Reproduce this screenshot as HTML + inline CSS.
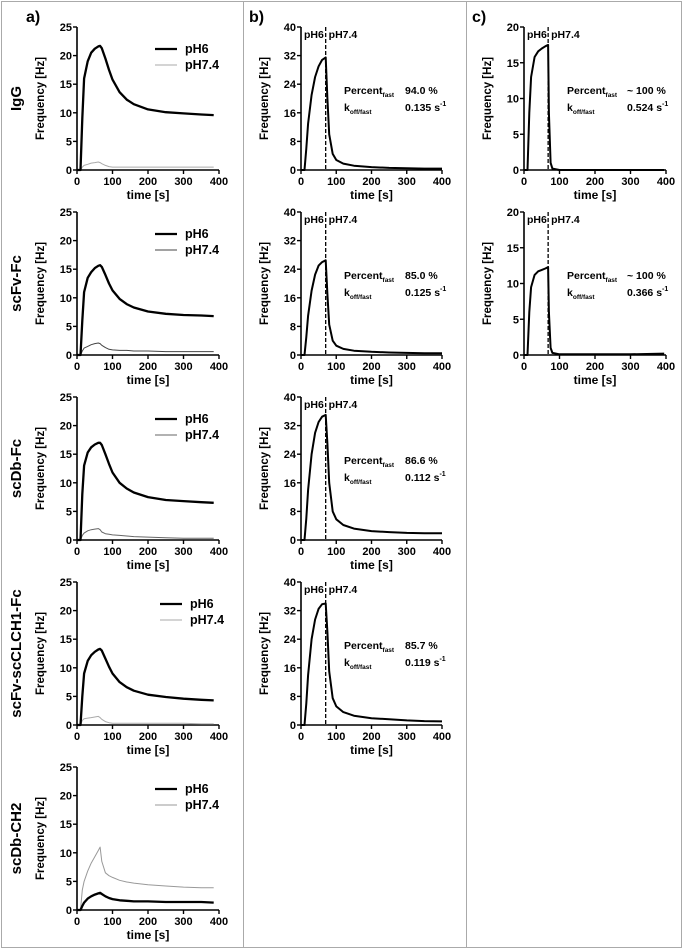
<!DOCTYPE html>
<html><head><meta charset="utf-8">
<style>
html,body{margin:0;padding:0;background:#fff;}
svg{display:block;font-family:"Liberation Sans",Arial,sans-serif;}
</style></head>
<body>
<svg id="fig" width="684" height="952" viewBox="0 0 684 952" xmlns="http://www.w3.org/2000/svg">
<rect x="1.5" y="1.5" width="680" height="946" fill="#fff" stroke="#aaa" stroke-width="1"/>
<line x1="243.5" y1="1.5" x2="243.5" y2="947.5" stroke="#aaa" stroke-width="1"/>
<line x1="466.5" y1="1.5" x2="466.5" y2="947.5" stroke="#aaa" stroke-width="1"/>
<text x="26" y="22" font-size="16" font-weight="bold">a)</text>
<text x="249" y="22" font-size="16" font-weight="bold">b)</text>
<text x="472" y="22" font-size="16" font-weight="bold">c)</text>
</svg>
<script>
// ---- data ----
const timesA = [0,10,15,20,30,40,50,60,65,70,80,90,100,120,140,160,200,250,300,350,385];
const igg_pH6   = [0,0,9,16,19,20.5,21.2,21.6,21.7,21.3,19.5,17.5,15.8,13.6,12.3,11.5,10.6,10.1,9.9,9.7,9.6];
const igg_pH74  = [0,0,0.5,0.8,1.0,1.2,1.3,1.4,1.3,1.1,0.8,0.6,0.5,0.5,0.5,0.5,0.5,0.5,0.5,0.5,0.5];
const scfvfc_pH6  = [0,0,6,11,13.5,14.5,15.2,15.6,15.7,15.4,14.0,12.5,11.3,9.8,8.9,8.3,7.6,7.2,7.0,6.9,6.8];
const scfvfc_pH74 = [0,0,0.7,1.2,1.5,1.8,2.0,2.1,2.0,1.7,1.3,1.0,0.9,0.8,0.8,0.7,0.7,0.6,0.6,0.6,0.6];
const scdbfc_pH6  = [0,0,8,13,15.3,16.2,16.7,17.0,17.0,16.6,15.0,13.3,11.8,10.0,9.0,8.3,7.5,7.0,6.8,6.6,6.5];
const scdbfc_pH74 = [0,0,0.8,1.2,1.6,1.8,1.9,2.0,1.8,1.4,1.1,1.0,0.9,0.8,0.7,0.6,0.5,0.4,0.3,0.3,0.3];
const sccl_pH6  = [0,0,5,9,11.2,12.2,12.8,13.2,13.3,13.0,11.6,10.2,9.0,7.5,6.6,6.0,5.3,4.9,4.6,4.4,4.3];
const sccl_pH74 = [0,0,0.8,1.1,1.2,1.3,1.4,1.5,1.3,1.0,0.6,0.4,0.3,0.3,0.3,0.3,0.3,0.3,0.3,0.2,0.2];
const scdbch2_pH6  = [0,0,0.7,1.3,2.0,2.4,2.7,2.9,3.0,2.8,2.4,2.1,1.9,1.7,1.6,1.5,1.5,1.4,1.4,1.4,1.3];
const scdbch2_pH74 = [0,0,3.5,5.0,6.8,8.2,9.3,10.4,11.0,8.5,6.5,6.0,5.7,5.2,4.9,4.7,4.4,4.2,4.0,3.9,3.9];

const timesB = [0,10,15,20,30,40,50,60,70,75,80,90,100,120,150,200,250,300,350,400];
const b_igg    = [0,0,6,13,21,26,29,30.8,31.5,20,10,4.5,2.8,1.8,1.2,0.8,0.6,0.5,0.4,0.4];
const b_scfvfc = [0,0,5,11,18,22.5,25,26,26.5,17,8.5,4,2.6,1.7,1.2,0.9,0.7,0.6,0.5,0.5];
const b_scdbfc = [0,0,6,14,24,30,33,34.5,35,27,16,8,5.8,4.2,3.2,2.5,2.2,2.0,1.9,1.9];
const b_sccl   = [0,0,6,14,24,29.5,32.5,33.8,34,26,15,7.5,5.2,3.6,2.6,1.9,1.6,1.3,1.1,1.0];

const timesC = [0,10,15,20,30,40,50,60,68,70,75,80,100,200,300,395];
const c_igg    = [0,0,8,13,15.8,16.6,17.0,17.3,17.5,8,1,0.2,0,0,0,0];
const c_scfvfc = [0,0,6,9.5,11.2,11.7,11.9,12.1,12.3,6,1,0.3,0.1,0.1,0.1,0.2];

const xTicks = [0,100,200,300,400];
const yTicksA = [0,5,10,15,20,25];
const yTicksB = [0,8,16,24,32,40];
const yTicksC = [0,5,10,15,20];
const rowNames = ["IgG","scFv-Fc","scDb-Fc","scFv-scCLCH1-Fc","scDb-CH2"];
const percentB = ["94.0 %","85.0 %","86.6 %","85.7 %"];
const koffB = ["0.135","0.125","0.112","0.119"];
const percentC = ["~ 100 %","~ 100 %"];
const koffC = ["0.524","0.366"];
const switchTime = 70;

// ---- layout ----
const NS="http://www.w3.org/2000/svg";
const svg=document.getElementById('fig');
const rowTop=[27,212,397,582,767], axH=143;
function mk(tag,attrs,parent){const e=document.createElementNS(NS,tag);for(const k in attrs)e.setAttribute(k,attrs[k]);(parent||svg).appendChild(e);return e;}

function axes(g,x0,x1,top,ymax,yt,name){
  const bot=top+axH;
  const sx=t=>x0+(t/400)*(x1-x0), sy=v=>bot-(v/ymax)*axH;
  const ya=mk('line',{x1:x0,y1:top,x2:x0,y2:bot,stroke:'#000','stroke-width':1.6},g);
  
  
  const xa=mk('line',{x1:x0,y1:bot,x2:x1,y2:bot,stroke:'#000','stroke-width':1.6},g);
  
  
  yt.forEach(v=>{
    mk('line',{x1:x0-4,y1:sy(v),x2:x0,y2:sy(v),stroke:'#000','stroke-width':1.4},g);
    const t=mk('text',{x:x0-5,y:sy(v)+4,'font-size':11,'font-weight':'bold','text-anchor':'end'},g);
    t.textContent=v;
    
    
  });
  xTicks.forEach(v=>{
    mk('line',{x1:sx(v),y1:bot,x2:sx(v),y2:bot+4,stroke:'#000','stroke-width':1.4},g);
    const t=mk('text',{x:sx(v),y:bot+15,'font-size':11,'font-weight':'bold','text-anchor':'middle'},g);
    t.textContent=v;
    
    
  });
  const xt=mk('text',{x:(x0+x1)/2,y:bot+29,'font-size':12,'font-weight':'bold','text-anchor':'middle'},g);
  xt.textContent='time [s]';
  
  
  const cy=(top+bot)/2, cx=x0-33;
  const ytt=mk('text',{x:cx,y:cy,'font-size':11.5,'font-weight':'bold','text-anchor':'middle',transform:`rotate(-90 ${cx} ${cy})`},g);
  ytt.textContent='Frequency [Hz]';
  
  
  return {sx,sy,bot};
}
function series(g,ax,ts,vs,stroke,w,name){
  const pts=ts.map((t,i)=>ax.sx(t).toFixed(1)+','+ax.sy(vs[i]).toFixed(1)).join(' ');
  const p=mk('polyline',{points:pts,fill:'none',stroke:stroke,'stroke-width':w,'stroke-linejoin':'round'},g);
  
  
}

// panel a
const aData=[[igg_pH6,igg_pH74],[scfvfc_pH6,scfvfc_pH74],[scdbfc_pH6,scdbfc_pH74],[sccl_pH6,sccl_pH74],[scdbch2_pH6,scdbch2_pH74]];
const lowColor=['#aaa','#444','#666','#aaa','#999'];
aData.forEach((d,r)=>{
  const g=mk('g',{});
  
  
  const top=rowTop[r];
  const ax=axes(g,77,219,top,25,yTicksA,'a'+(r+1));
  series(g,ax,timesA,d[1],lowColor[r],1,'a'+(r+1)+'-ph74-line');
  series(g,ax,timesA,d[0],'#000',2.3,'a'+(r+1)+'-ph6-line');
  const cy=(top+ax.bot)/2;
  const rn=mk('text',{x:21,y:cy,'font-size':15,'font-weight':'bold','text-anchor':'middle',transform:`rotate(-90 21 ${cy})`},g);
  rn.textContent=rowNames[r];
  
  
  const lx=r===3?160:155;
  const l1=mk('line',{x1:lx,y1:top+22,x2:lx+22,y2:top+22,stroke:'#000','stroke-width':2.3},g);
  
  
  const t1=mk('text',{x:lx+30,y:top+26,'font-size':12.5,'font-weight':'bold'},g);t1.textContent='pH6';
  
  
  const l2=mk('line',{x1:lx,y1:top+38,x2:lx+22,y2:top+38,stroke:lowColor[r],'stroke-width':1},g);
  
  
  const t2=mk('text',{x:lx+30,y:top+42,'font-size':12.5,'font-weight':'bold'},g);t2.textContent='pH7.4';
  
  
});

function fastPanel(g,ax,x0,top,ymax,sw,pct,koff,tx,vx,name){
  const dx=ax.sx(sw);
  const dl=mk('line',{x1:dx,y1:top,x2:dx,y2:ax.bot,stroke:'#000','stroke-width':1.3,'stroke-dasharray':'4,2'},g);
  
  
  const p1=mk('text',{x:x0+3,y:top+11,'font-size':10.5,'font-weight':'bold'},g);p1.textContent='pH6';
  
  
  const p2=mk('text',{x:dx+3,y:top+11,'font-size':10.5,'font-weight':'bold'},g);p2.textContent='pH7.4';
  
  
  const a=mk('text',{x:tx,y:top+67,'font-size':10.5,'font-weight':'bold'},g);
  a.innerHTML='Percent<tspan font-size="6.5" dy="3">fast</tspan>';
  
  
  const av=mk('text',{x:vx,y:top+67,'font-size':10.5,'font-weight':'bold'},g);av.textContent=pct;
  
  
  const k=mk('text',{x:tx,y:top+84,'font-size':10.5,'font-weight':'bold'},g);
  k.innerHTML='k<tspan font-size="6.5" dy="3">off/fast</tspan>';
  
  
  const kv=mk('text',{x:vx,y:top+84,'font-size':10.5,'font-weight':'bold'},g);
  kv.innerHTML=koff+' s<tspan font-size="7" dy="-5">-1</tspan>';
  
  
}
[b_igg,b_scfvfc,b_scdbfc,b_sccl].forEach((d,r)=>{
  const g=mk('g',{});
  
  
  const top=rowTop[r];
  const ax=axes(g,301,442,top,40,yTicksB,'b'+(r+1));
  series(g,ax,timesB,d,'#000',2,'b'+(r+1)+'-curve');
  fastPanel(g,ax,301,top,40,switchTime,percentB[r],koffB[r],344,405,'b'+(r+1));
});
[c_igg,c_scfvfc].forEach((d,r)=>{
  const g=mk('g',{});
  
  
  const top=rowTop[r];
  const ax=axes(g,524,666,top,20,yTicksC,'c'+(r+1));
  series(g,ax,timesC,d,'#000',2,'c'+(r+1)+'-curve');
  fastPanel(g,ax,524,top,20,68,percentC[r],koffC[r],567,627,'c'+(r+1));
});
</script>
</body></html>
